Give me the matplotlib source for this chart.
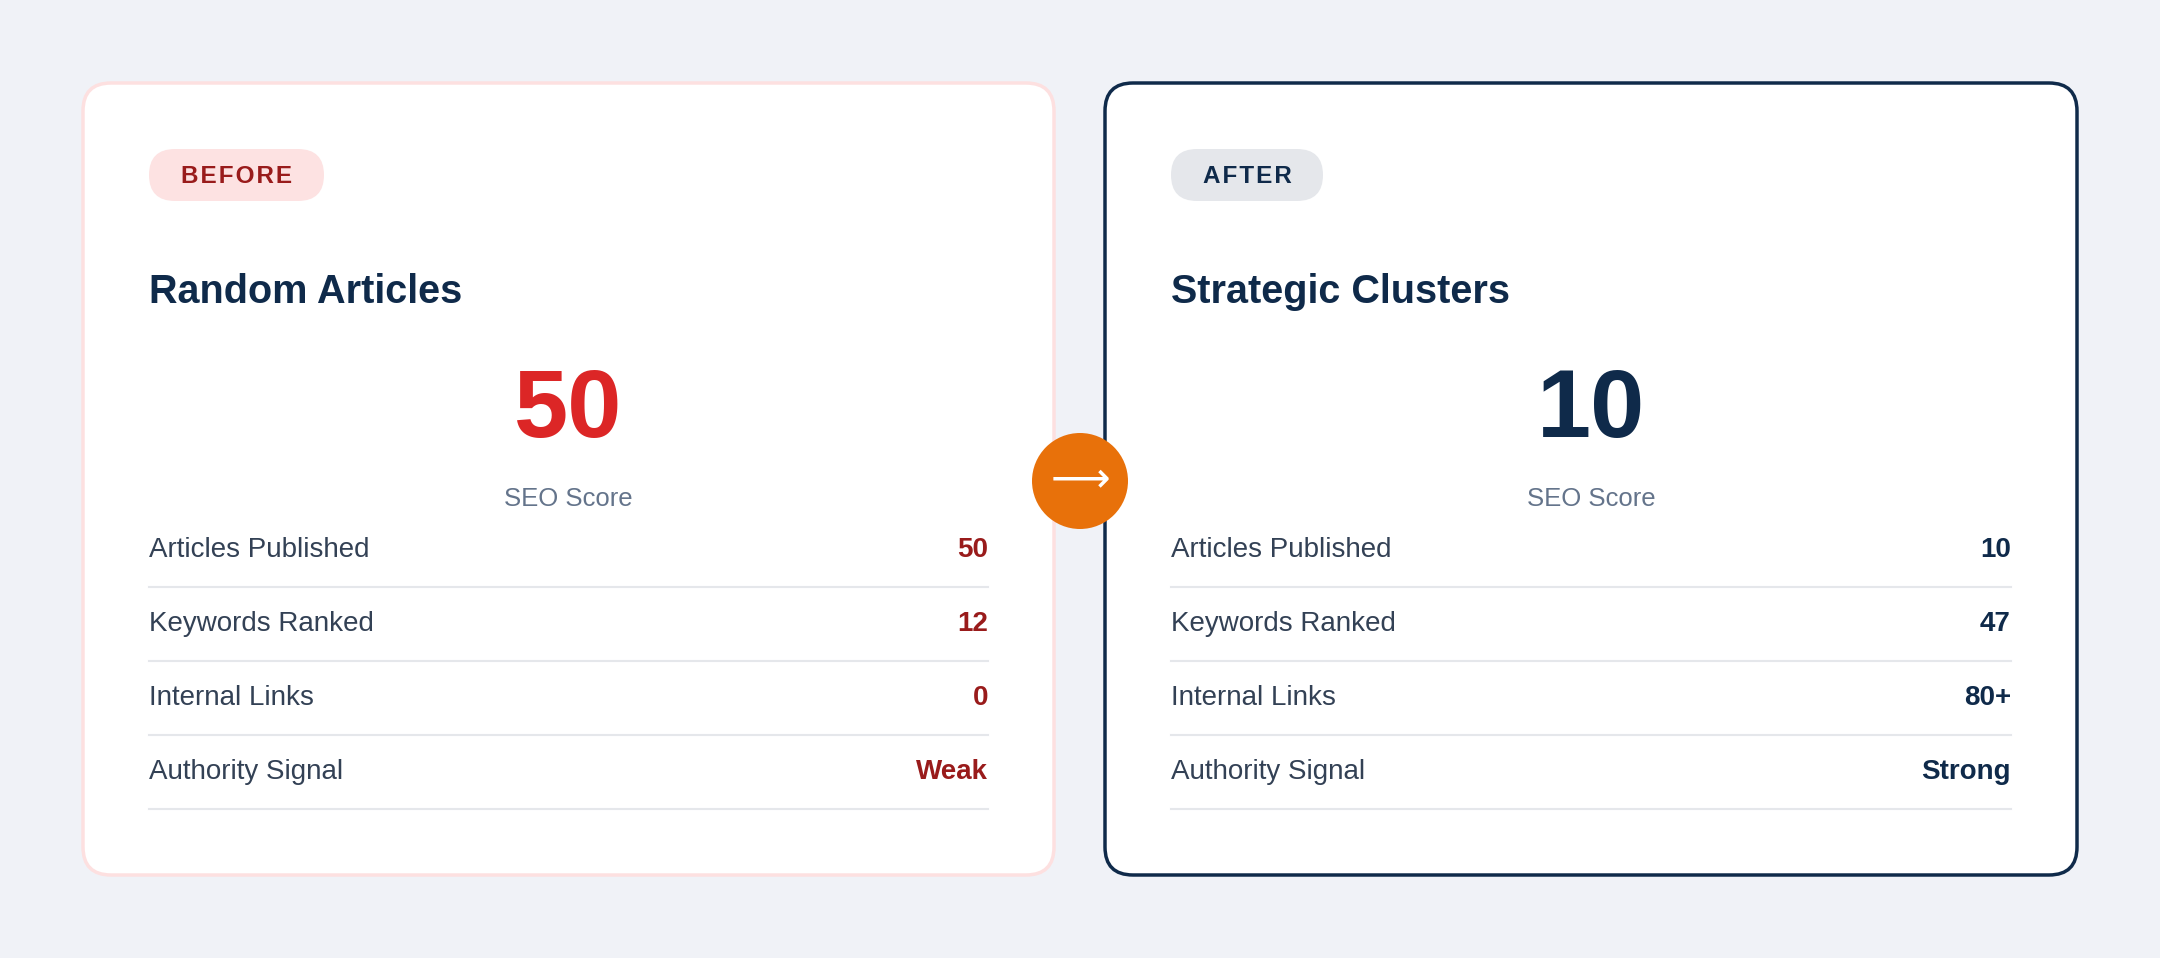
import matplotlib
matplotlib.use("Agg")
import matplotlib.pyplot as plt
from matplotlib.patches import FancyBboxPatch, Circle

plt.rcParams['font.family'] = ['Liberation Sans', 'DejaVu Sans']

# data
badges = ["BEFORE", "AFTER"]
titles = ["Random Articles", "Strategic Clusters"]
scores = ["50", "10"]
row_labels = ["Articles Published", "Keywords Ranked", "Internal Links", "Authority Signal"]
before_vals = ["50", "12", "0", "Weak"]
after_vals = ["10", "47", "80+", "Strong"]

W, H = 2160, 958
fig = plt.figure(figsize=(W / 100, H / 100), dpi=100)
fig.patch.set_facecolor("#f0f2f7")
ax = fig.add_axes([0, 0, 1, 1])
ax.set_xlim(0, W)
ax.set_ylim(H, 0)
ax.axis("off")

cards = [
    dict(x0=83, x1=1054, border="#fde0e0", lw=2.5, badge_w=175, badge_bg="#fde2e2",
         badge_fg="#991b1b", score_c="#dc2626", val_c="#991b1b", vals=before_vals),
    dict(x0=1105, x1=2077, border="#0f2a4a", lw=2.5, badge_w=152, badge_bg="#e5e7eb",
         badge_fg="#0f2a4a", score_c="#0f2a4a", val_c="#0f2a4a", vals=after_vals),
]

for i, c in enumerate(cards):
    x0, x1 = c["x0"], c["x1"]
    ax.add_patch(FancyBboxPatch((x0, 83), x1 - x0, 792,
                                boxstyle="round,pad=0,rounding_size=28",
                                fc="white", ec=c["border"], lw=c["lw"]))
    lx = x0 + 66
    rx = x1 - 66
    ax.add_patch(FancyBboxPatch((lx, 149), c["badge_w"], 52,
                                boxstyle="round,pad=0,rounding_size=26",
                                fc=c["badge_bg"], ec="none"))
    ax.text(lx + c["badge_w"] / 2, 176, "\u200a".join(badges[i]), ha="center", va="center",
            fontsize=17.5, fontweight="bold", color=c["badge_fg"])
    ax.text(lx, 292, titles[i], ha="left", va="center", fontsize=28.5,
            fontweight="bold", color="#0f2a4a")
    cx = (lx + rx) / 2
    ax.text(cx, 412, scores[i], ha="center", va="center", fontsize=70,
            fontweight="bold", color=c["score_c"])
    ax.text(cx, 499, "SEO Score", ha="center", va="center", fontsize=18.5,
            color="#64748b")
    for j, lab in enumerate(row_labels):
        y = 550 + j * 74
        ax.text(lx, y, lab, ha="left", va="center", fontsize=20, color="#334155")
        ax.text(rx, y, c["vals"][j], ha="right", va="center", fontsize=20,
                fontweight="bold", color=c["val_c"])
        ax.plot([lx, rx], [y + 37, y + 37], color="#e5e7eb", lw=1.5)

ax.add_patch(Circle((1080, 481), 48, fc="#e8710a", ec="none", zorder=5))
ax.text(1080, 479, "\u27f6", ha="center", va="center", fontsize=30,
        color="white", zorder=6, family="DejaVu Sans")

fig.savefig("out.png", dpi=100, facecolor=fig.get_facecolor())
